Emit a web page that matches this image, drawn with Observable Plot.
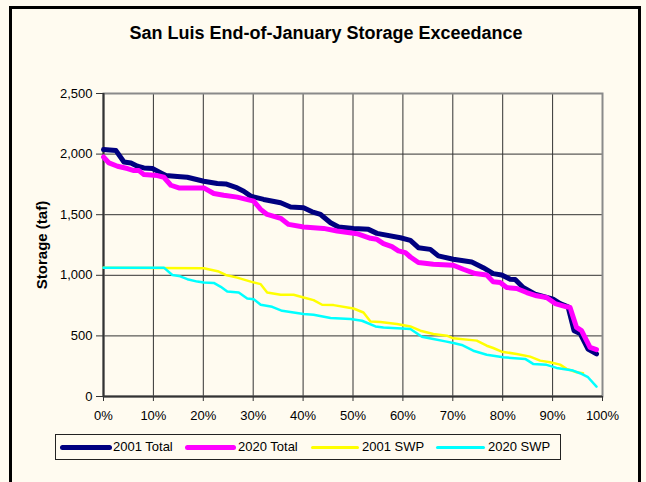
<!DOCTYPE html>
<html>
<head>
<meta charset="utf-8">
<script src="https://cdn.jsdelivr.net/npm/d3@7"></script>
<script src="https://cdn.jsdelivr.net/npm/@observablehq/plot@0.6"></script>
<style>
  html, body { margin: 0; padding: 0; background: #FFFBF0; }
  #wrap { position: relative; width: 646px; height: 482px; overflow: hidden; background: #FFFBF0; font-family: "Liberation Sans", Arial, sans-serif; }
  #border { position: absolute; left: 9px; top: 6px; width: 632px; height: 520px; box-sizing: border-box; border: 3px solid #000; }
  #title { position: absolute; left: 0; top: 24px; width: 652px; text-align: center; font-size: 18px; line-height: 18px; font-weight: bold; color: #000; }
  #chart { position: absolute; left: 0; top: 0; }
  #legend { position: absolute; left: 55px; top: 434px; width: 506px; height: 26px; box-sizing: border-box; border: 1px solid #222; background: #FFFBF0; }
  .sw { position: absolute; top: 10px; height: 5px; border-radius: 3px; }
  .lt { position: absolute; top: 4px; font-size: 13px; line-height: 16px; color: #000; white-space: nowrap; }
</style>
</head>
<body>
<div id="wrap">
  <div id="border"></div>
  <div id="chart"></div>
  <div id="title">San Luis End-of-January Storage Exceedance</div>
  <div id="legend"></div>
</div>
<script>
// ---- data ----
const xTicks = [0, 10, 20, 30, 40, 50, 60, 70, 80, 90, 100];
const yTicks = [0, 500, 1000, 1500, 2000, 2500];
const seriesNames = ["2001 Total", "2020 Total", "2001 SWP", "2020 SWP"];
const seriesColors = ["#000080", "#FF00FF", "#FFFF00", "#00FFFF"];

const pct2001Total = [0, 2.5, 4.1, 5.5, 6.8, 8.1, 9.8, 11.5, 12.5, 14.8, 16.8, 20.1, 22.8, 24.5, 26.8, 28.1, 29.5, 32.1, 35.5, 37.5, 40.1, 41.8, 43.5, 45.5, 47.1, 50.1, 53.1, 54.8, 59.5, 61.5, 63.1, 65.5, 67.1, 70.1, 73.8, 76.1, 78.1, 79.8, 81.5, 82.5, 84.1, 86.5, 90.1, 91.5, 93.1, 94.3, 95.5, 97.1, 98.8];
const total2001 = [2037, 2029, 1935, 1927, 1900, 1886, 1881, 1845, 1823, 1815, 1809, 1776, 1757, 1754, 1721, 1694, 1653, 1626, 1598, 1563, 1557, 1524, 1502, 1434, 1398, 1387, 1379, 1346, 1310, 1288, 1228, 1214, 1160, 1132, 1110, 1063, 1014, 1003, 968, 965, 899, 845, 803, 767, 740, 543, 521, 392, 351];

const pct2020Total = [0, 1.1, 2.8, 4.8, 6.1, 7.1, 8.1, 10.8, 12.1, 13.5, 15.1, 20.1, 22.1, 24.1, 26.8, 30.1, 31.5, 32.8, 35.5, 37.1, 40.1, 44.1, 46.8, 50.8, 53.5, 54.8, 56.1, 57.8, 59.1, 60.5, 61.5, 63.1, 66.1, 70.1, 72.1, 74.5, 76.8, 78.1, 79.5, 80.8, 82.8, 84.8, 86.8, 88.8, 90.5, 92.8, 93.5, 94.8, 95.8, 97.5, 98.8];
const total2020 = [1976, 1927, 1900, 1881, 1864, 1864, 1831, 1823, 1809, 1743, 1721, 1721, 1675, 1661, 1645, 1612, 1544, 1502, 1470, 1420, 1398, 1387, 1365, 1343, 1305, 1297, 1261, 1236, 1201, 1187, 1151, 1105, 1091, 1083, 1050, 1014, 1003, 946, 940, 899, 891, 858, 831, 817, 767, 740, 734, 570, 543, 405, 387];

const pct2001Swp = [0, 20.1, 23.1, 24.5, 26.8, 29.5, 31.5, 32.8, 35.5, 38.1, 40.1, 42.1, 43.8, 46.1, 50.1, 52.1, 53.5, 55.5, 58.8, 61.5, 63.5, 66.1, 68.8, 70.1, 74.8, 76.8, 78.1, 79.8, 82.8, 85.5, 87.5, 89.5, 91.5, 92.8, 94.8, 96.1];
const swp2001 = [1063, 1058, 1031, 1003, 981, 948, 927, 858, 839, 839, 817, 795, 757, 754, 726, 693, 619, 614, 598, 578, 543, 515, 502, 480, 461, 419, 400, 370, 351, 329, 296, 282, 263, 228, 200, 192];

const pct2020Swp = [0, 12.1, 13.8, 15.1, 16.8, 18.8, 20.1, 22.1, 23.5, 24.8, 27.1, 28.8, 30.1, 31.5, 33.8, 35.8, 38.1, 40.1, 42.1, 45.5, 49.5, 51.8, 54.5, 56.1, 59.8, 61.5, 63.8, 66.1, 68.5, 70.1, 71.8, 74.1, 76.8, 80.1, 84.5, 86.1, 88.8, 90.8, 94.1, 95.5, 97.1, 98.8];
const swp2020 = [1063, 1063, 1003, 995, 968, 948, 940, 937, 905, 866, 858, 808, 803, 757, 740, 707, 693, 680, 674, 647, 639, 625, 578, 570, 562, 557, 493, 475, 455, 442, 425, 378, 345, 323, 310, 269, 261, 236, 214, 192, 159, 82];

const yLabel = "Storage (taf)";

// ---- build tables ----
const toRows = (xs, ys) => xs.map((x, i) => ({x, y: ys[i]}));
const rows = [
  toRows(pct2001Total, total2001),
  toRows(pct2020Total, total2020),
  toRows(pct2001Swp, swp2001),
  toRows(pct2020Swp, swp2020)
];
const widths = [5, 5, 2.5, 2.5];

const fmt = d3.format(",");
const chart = Plot.plot({
  width: 646,
  height: 430,
  marginLeft: 103,
  marginRight: 44,
  marginTop: 93,
  marginBottom: 34,
  style: {background: "transparent", fontFamily: "'Liberation Sans', Arial, sans-serif", fontSize: "13px", color: "#000", overflow: "visible"},
  x: {domain: [0, 100], label: null},
  y: {domain: [0, 2500], label: null},
  marks: [
    Plot.gridX(xTicks, {stroke: "#333", strokeOpacity: 1, strokeWidth: 1}),
    Plot.gridY(yTicks, {stroke: "#333", strokeOpacity: 1, strokeWidth: 1}),
    Plot.frame({stroke: "#8a8a8a", strokeWidth: 2}),
    Plot.ruleX([0], {stroke: "#333", strokeWidth: 2}),
    Plot.ruleY([0], {stroke: "#333", strokeWidth: 2}),
    Plot.axisX(xTicks, {tickSize: 5, tickPadding: 9, tickFormat: d => d + "%", label: null, stroke: "#333", fontSize: 13}),
    Plot.axisY(yTicks, {tickSize: 7, tickPadding: 4, tickFormat: fmt, label: null, stroke: "#333", fontSize: 13}),
    ...rows.map((r, i) => Plot.line(r, {x: "x", y: "y", stroke: seriesColors[i], strokeWidth: widths[i], strokeLinejoin: "round", strokeLinecap: "round"})),
    Plot.text([yLabel], {frameAnchor: "left", dx: -61, rotate: -90, textAnchor: "middle", fontWeight: "bold", fontSize: 15, text: d => d, fill: "#000"})
  ]
});
document.getElementById("chart").appendChild(chart);

// ---- legend ----
const legend = document.getElementById("legend");
const swX = [4, 129, 255, 380];
const swW = [52, 51, 48, 49];
const txX = [57, 182, 306, 432];
seriesNames.forEach((name, i) => {
  const sw = document.createElement("div");
  sw.className = "sw";
  sw.style.left = swX[i] + "px";
  sw.style.width = swW[i] + "px";
  sw.style.background = seriesColors[i];
  if (widths[i] < 4) { sw.style.height = "3px"; sw.style.top = "11px"; }
  legend.appendChild(sw);
  const t = document.createElement("div");
  t.className = "lt";
  t.style.left = txX[i] + "px";
  t.textContent = name;
  legend.appendChild(t);
});
</script>
</body>
</html>
